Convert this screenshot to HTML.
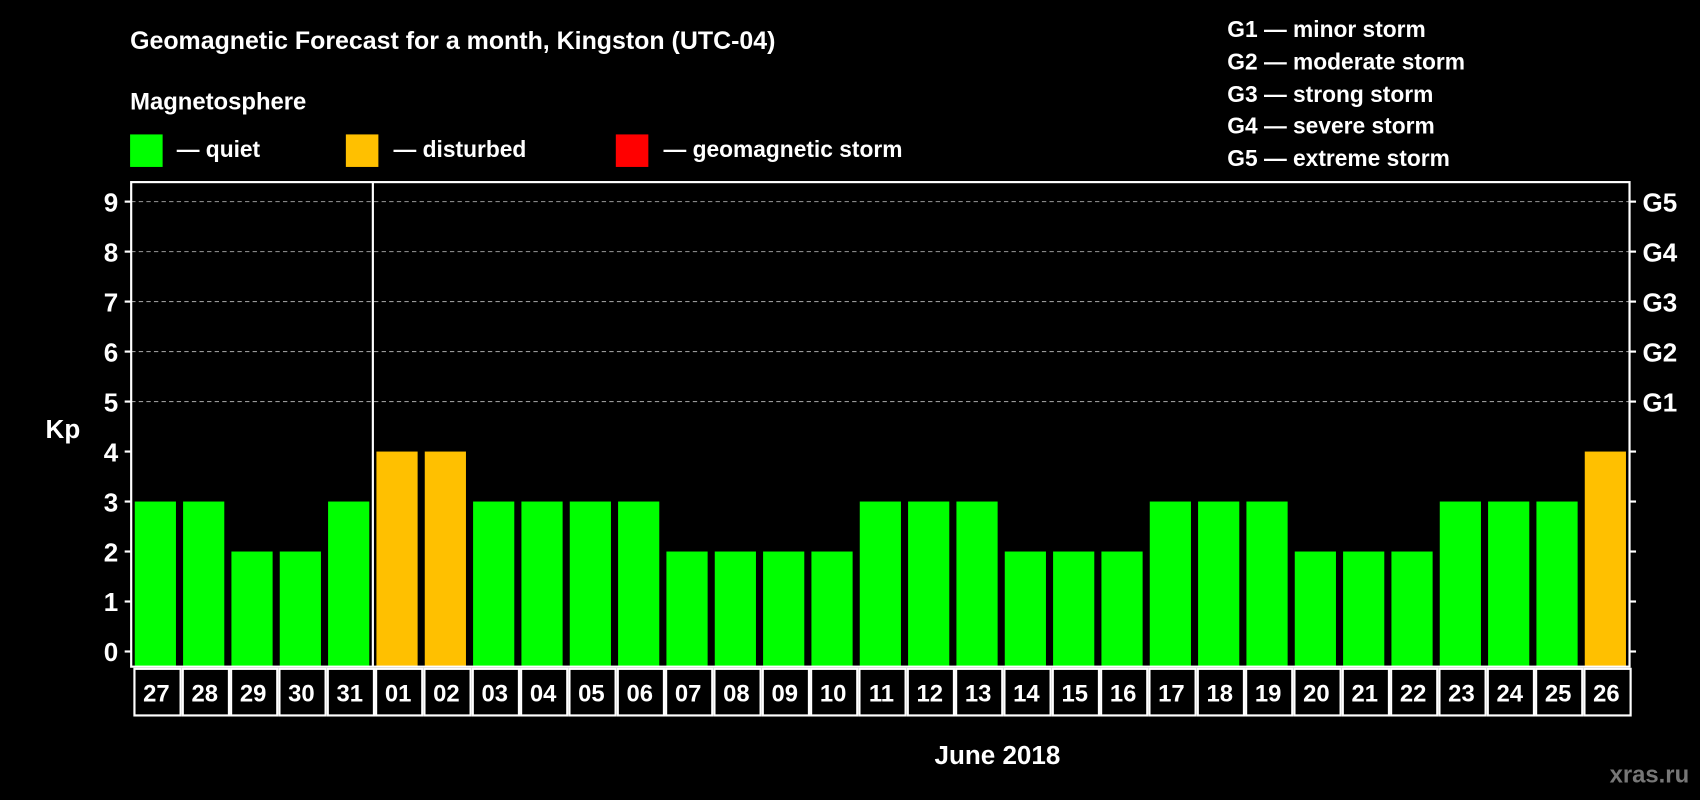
<!DOCTYPE html>
<html><head><meta charset="utf-8"><style>
html,body{margin:0;padding:0;background:#000;width:1700px;height:800px;overflow:hidden}
svg{display:block;font-family:"Liberation Sans",Arial,sans-serif;font-weight:bold}
</style></head><body>
<svg id="chart" width="1700" height="800" viewBox="0 0 1568 738" preserveAspectRatio="none" xmlns="http://www.w3.org/2000/svg">
<rect width="1568" height="738" fill="#000"/>
<text x="120" y="45" fill="#fff" font-size="23">Geomagnetic Forecast for a month, Kingston (UTC-04)</text>
<text x="120" y="101" fill="#fff" font-size="22">Magnetosphere</text>
<g><rect x="120" y="124" width="30" height="30" fill="#00ff00"/><text x="163" y="145" fill="#fff" font-size="21">— quiet</text></g>
<g><rect x="319" y="124" width="30" height="30" fill="#ffc000"/><text x="363" y="145" fill="#fff" font-size="21">— disturbed</text></g>
<g><rect x="568" y="124" width="30" height="30" fill="#ff0000"/><text x="612" y="145" fill="#fff" font-size="21">— geomagnetic storm</text></g>
<g fill="#fff" font-size="21">
<text x="1132" y="34">G1 — minor storm</text>
<text x="1132" y="64">G2 — moderate storm</text>
<text x="1132" y="94">G3 — strong storm</text>
<text x="1132" y="123">G4 — severe storm</text>
<text x="1132" y="153">G5 — extreme storm</text>
</g>
<text x="58" y="404" fill="#fff" font-size="24" text-anchor="middle">Kp</text>
<text x="920" y="705" fill="#fff" font-size="24" text-anchor="middle">June 2018</text>
<text x="1558" y="722" fill="#777" font-size="22" text-anchor="end">xras.ru</text>
<g id="grid"></g><g id="bars"></g><g id="axes"></g><g id="xlabels"></g>
</svg>
<script>
const days = ["27","28","29","30","31","01","02","03","04","05","06","07","08","09","10","11","12","13","14","15","16","17","18","19","20","21","22","23","24","25","26"];
const kp = [3,3,2,2,3,4,4,3,3,3,3,2,2,2,2,3,3,3,2,2,2,3,3,3,2,2,2,3,3,3,4];
const yTicks = [0,1,2,3,4,5,6,7,8,9];
const gLabels = ["G1","G2","G3","G4","G5"];
const gLevels = [5,6,7,8,9];
const NS="http://www.w3.org/2000/svg";
const L=121,R=1503,T=168,B=615;
const y=v=>601-(v)*(601-186)/9;
const step=(R-L)/days.length;
const x=i=>L+step*(i+0.5);
function mk(tag,attrs,parent){const e=document.createElementNS(NS,tag);for(const k in attrs)e.setAttribute(k,attrs[k]);parent.appendChild(e);return e;}
const grid=document.getElementById('grid'),bars=document.getElementById('bars'),axes=document.getElementById('axes'),xl=document.getElementById('xlabels');
yTicks.forEach(v=>{
  if(v>=5){const g=mk('line',{x1:L,x2:R,y1:y(v),y2:y(v),stroke:'#999','stroke-dasharray':'4,3','stroke-width':1},grid);
  
  }
  const t=mk('line',{x1:L-6,x2:L,y1:y(v),y2:y(v),stroke:'#fff','stroke-width':2},axes);
  
  
  const t2=mk('line',{x1:R,x2:R+6,y1:y(v),y2:y(v),stroke:'#fff','stroke-width':2},axes);
  
  
  const lb=mk('text',{x:L-12,y:y(v)+9,fill:'#fff','font-size':24,'text-anchor':'end'},axes);lb.textContent=v;
  
  
});
gLevels.forEach((v,i)=>{
  const lb=mk('text',{x:R+12,y:y(v)+9,fill:'#fff','font-size':24},axes);lb.textContent=gLabels[i];
  
  
});
kp.forEach((v,i)=>{
  const c=v>=5?'#ff0000':(v>=4?'#ffc000':'#00ff00');
  const r=mk('rect',{x:x(i)-19,y:y(v),width:38,height:B-y(v),fill:c},bars);
  
  
  const cell=mk('rect',{x:L+step*i+3,y:B+2,width:step-2,height:43,fill:'none',stroke:'#fff','stroke-width':2},xl);
  
  
  const t=mk('text',{x:x(i)+1,y:B+32,fill:'#fff','font-size':22,'text-anchor':'middle'},xl);t.textContent=days[i];
  
  
});
const box=mk('rect',{x:L,y:T,width:R-L,height:B-T,fill:'none',stroke:'#fff','stroke-width':2},axes);


const sep=mk('line',{x1:L+step*5,x2:L+step*5,y1:T,y2:B,stroke:'#fff','stroke-width':2},axes);


</script>
</body></html>
